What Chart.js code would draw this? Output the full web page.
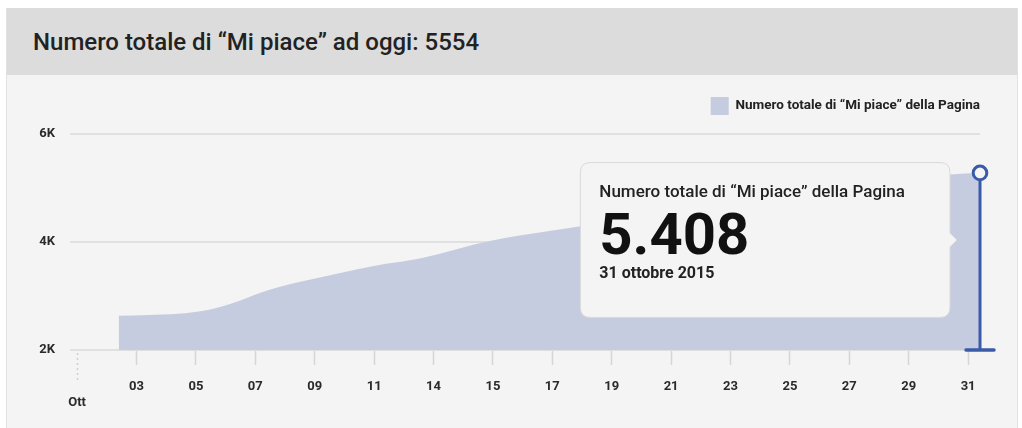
<!DOCTYPE html>
<html lang="it">
<head>
<meta charset="utf-8">
<title>Numero totale di “Mi piace”</title>
<script src="https://cdn.jsdelivr.net/npm/chart.js@4.4.1/dist/chart.umd.min.js"></script>
<style>
  html, body { margin: 0; padding: 0; background: #fff; }
  body { width: 1022px; height: 428px; position: relative; overflow: hidden; font-family: Roboto, "Open Sans", sans-serif; }
  .card { position: absolute; left: 6px; top: 8px; width: 1010px; height: 430px; border-left: 1px solid #e2e2e2; border-right: 1px solid #e2e2e2; background: #f4f4f4; }
  .card-header { height: 67px; background: #dcdcdc; padding-left: 26px; line-height: 68px; font-size: 24px; font-weight: 500; color: #222; }
  #js--chart--likes { position: absolute; left: 0; top: 75px; width: 1022px; height: 353px; }
</style>
</head>
<body>
<div class="card">
  <div class="card-header">Numero totale di “Mi piace” ad oggi: 5554</div>
</div>
<canvas id="js--chart--likes" width="1022" height="353"></canvas>

<script>
// giorni di ottobre 2015 e totale "Mi piace" per giorno
const days = [2, 3, 4, 5, 6, 7, 8, 9, 10, 11, 12, 13, 14, 15, 16, 17, 18, 19, 20, 21, 22, 23, 24, 25, 26, 27, 28, 29, 30, 31];
const likes = [2632, 2650, 2670, 2740, 2900, 3100, 3250, 3370, 3490, 3595, 3680, 3810, 3960, 4075, 4160,
               4245, 4330, 4390, 4450, 4510, 4580, 4650, 4730, 4810, 4890, 4970, 5050, 5140, 5250, 5280];

const tickDays = [1, 3, 5, 7, 9, 11, 13, 15, 17, 19, 21, 23, 25, 27, 29, 31];
const tickLabels = [['', 'Ott'], '03', '05', '07', '09', '11', '14', '15', '17', '19', '21', '23', '25', '27', '29', '31'];
const yTicks = [2000, 4000, 6000];

const seriesLabel = 'Numero totale di “Mi piace” della Pagina';
const tooltipValue = 5408;
const tooltipDate = '31 ottobre 2015';

const areaColor = '#c6cce0';
const markerColor = '#3a5ba8';
const fontFamily = 'Roboto, "Open Sans", sans-serif';

function formatThousands(n) {
  return String(n).replace(/\B(?=(\d{3})+(?!\d))/g, '.');
}

// tooltip centrato verticalmente sull'area del grafico
Chart.Tooltip.positioners.chartMiddle = function (items) {
  if (!items.length) return false;
  const area = this.chart.chartArea;
  return { x: items[0].element.x, y: (area.top + area.bottom) / 2 - 2 };
};

const legendGap = {
  id: 'legendGap',
  beforeInit(chart) {
    const fit = chart.legend.fit;
    chart.legend.fit = function () {
      fit.bind(chart.legend)();
      this.height += 9;
    };
  },
  afterLayout(chart) {
    // allinea la legenda al bordo destro dell'area
    chart.legend.left += 10;
    chart.legend.right += 10;
  }
};

const marker = {
  id: 'marker',
  afterDatasetsDraw(chart) {
    const meta = chart.getDatasetMeta(0);
    const pt = meta.data[meta.data.length - 1];
    const bottom = chart.chartArea.bottom;
    const c = chart.ctx;
    c.save();
    c.strokeStyle = markerColor;
    c.lineWidth = 3;
    c.beginPath();
    c.moveTo(pt.x, pt.y);
    c.lineTo(pt.x, bottom);
    c.stroke();
    c.lineWidth = 3.5;
    c.lineCap = 'round';
    c.beginPath();
    c.moveTo(pt.x - 14, bottom);
    c.lineTo(pt.x + 14, bottom);
    c.stroke();
    c.lineWidth = 3;
    c.beginPath();
    c.arc(pt.x, pt.y, 6.8, 0, Math.PI * 2);
    c.fillStyle = '#f4f4f4';
    c.fill();
    c.stroke();

    // primo tick tratteggiato
    const xScale = chart.scales.x;
    const x0 = Math.round(xScale.getPixelForValue(tickDays[0])) + 0.5;
    c.strokeStyle = '#cfcfcf';
    c.lineWidth = 1.5;
    c.lineCap = 'butt';
    c.setLineDash([2, 3]);
    c.beginPath();
    c.moveTo(x0, bottom + 3);
    c.lineTo(x0, bottom + 33);
    c.stroke();
    c.restore();
  }
};

const ctx = document.getElementById('js--chart--likes');

const chart = new Chart(ctx, {
  type: 'line',
  data: {
    datasets: [{
      label: seriesLabel,
      data: days.map((d, i) => ({ x: d + 0.4, y: likes[i] })),
      backgroundColor: areaColor,
      borderColor: areaColor,
      borderWidth: 0,
      fill: 'start',
      pointRadius: 0,
      pointHoverRadius: 0,
      cubicInterpolationMode: 'monotone'
    }]
  },
  options: {
    responsive: false,
    devicePixelRatio: 1,
    animation: false,
    events: [],
    layout: { padding: { top: 12, right: 42, left: 0, bottom: 0 } },
    scales: {
      x: {
        type: 'linear',
        min: 0.76,
        max: 31.4,
        afterBuildTicks: (scale) => { scale.ticks = tickDays.map(v => ({ value: v })); },
        afterFit: (scale) => { scale.height = 78; },
        border: { display: false },
        grid: {
          drawOnChartArea: false,
          tickLength: 15,
          tickWidth: 1.5,
          tickColor: (c) => c.index === 0 ? 'rgba(0,0,0,0)' : '#d6d6d6'
        },
        ticks: {
          autoSkip: false,
          maxRotation: 0,
          padding: 14,
          color: '#2a2a2a',
          font: { family: fontFamily, size: 13, weight: 'bold' },
          callback: (v, i) => tickLabels[i]
        }
      },
      y: {
        min: 2000,
        max: 6000,
        afterBuildTicks: (scale) => { scale.ticks = yTicks.map(v => ({ value: v })); },
        afterFit: (scale) => { scale.width = 70; },
        border: { display: false },
        grid: { color: '#e0e0e0', lineWidth: 2, drawTicks: false },
        ticks: {
          padding: 15,
          color: '#2a2a2a',
          font: { family: fontFamily, size: 13, weight: 'bold' },
          callback: (v) => (v / 1000) + 'K'
        }
      }
    },
    plugins: {
      legend: {
        position: 'top',
        align: 'end',
        labels: {
          boxWidth: 18,
          boxHeight: 18,
          padding: 10,
          color: '#222',
          font: { family: fontFamily, size: 13.5, weight: 'bold' }
        }
      },
      tooltip: {
        position: 'chartMiddle',
        xAlign: 'right',
        yAlign: 'center',
        backgroundColor: '#f4f4f4',
        borderColor: '#d9d9d9',
        borderWidth: 1,
        cornerRadius: 10,
        caretSize: 7,
        caretPadding: 23,
        displayColors: false,
        padding: { top: 20, bottom: 34, left: 19, right: 45 },
        titleColor: '#222',
        titleFont: { family: fontFamily, size: 17, weight: '500' },
        titleMarginBottom: 12,
        bodyColor: '#111',
        bodyFont: { family: fontFamily, size: 58, weight: 'bold', lineHeight: 0.85 },
        footerColor: '#222',
        footerFont: { family: fontFamily, size: 16, weight: 'bold' },
        footerMarginTop: 0,
        callbacks: {
          title: () => seriesLabel,
          label: () => formatThousands(tooltipValue),
          footer: () => tooltipDate
        }
      }
    }
  },
  plugins: [legendGap, marker]
});

const lastIndex = likes.length - 1;
chart.tooltip.setActiveElements([{ datasetIndex: 0, index: lastIndex }], { x: 0, y: 0 });
chart.update();
</script>
</body>
</html>
